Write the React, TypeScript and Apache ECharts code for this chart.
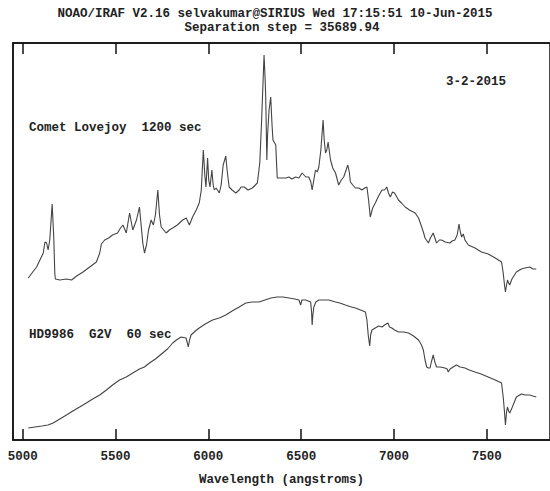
import React, { useEffect, useRef } from "react";
import * as echarts from "echarts";

const tickValues = [5000, 5500, 6000, 6500, 7000, 7500];

const cometWave = [5030,5075,5111,5120,5129,5137,5146,5159,5168,5173,5176,5200,5236,5263,5291,5325,5361,5397,5415,5424,5442,5463,5484,5511,5527,5540,5558,5576,5593,5613,5629,5638,5647,5656,5667,5678,5692,5704,5715,5728,5737,5746,5773,5790,5808,5833,5862,5881,5898,5915,5935,5951,5962,5973,5981,5987,5996,6002,6009,6019,6026,6032,6042,6059,6069,6080,6094,6101,6112,6128,6148,6166,6176,6193,6214,6237,6264,6277,6287,6300,6306,6309,6315,6319,6327,6336,6343,6348,6363,6371,6398,6418,6434,6450,6470,6488,6505,6525,6541,6552,6559,6568,6577,6587,6595,6606,6618,6624,6631,6638,6645,6658,6670,6685,6702,6716,6729,6751,6759,6765,6778,6792,6810,6827,6842,6854,6863,6872,6885,6899,6917,6935,6949,6961,6970,6980,6992,7003,7024,7040,7060,7083,7114,7132,7149,7158,7167,7185,7196,7211,7229,7244,7256,7276,7301,7313,7328,7340,7350,7357,7364,7373,7382,7400,7436,7471,7507,7545,7579,7588,7595,7600,7606,7611,7617,7623,7635,7659,7686,7705,7731,7748,7766];
const cometFlux = [162,173,187,198,197,190,200,236,200,167,161,160,161,160,164,168,173,178,187,196,200,202,205,207,212,215,207,227,210,220,233,215,197,187,195,210,220,215,225,250,225,213,207,210,212,215,220,222,215,223,230,237,250,290,265,253,282,260,253,270,255,250,252,247,255,275,284,270,253,250,247,250,253,253,250,252,257,277,320,385,360,343,280,305,330,343,315,300,295,262,262,262,263,261,263,262,267,263,263,258,250,260,270,268,273,290,320,300,287,290,298,280,272,267,255,260,263,275,268,258,255,252,252,250,252,253,240,223,232,237,244,250,250,253,247,243,248,247,240,237,233,230,227,222,213,208,202,197,202,207,197,200,200,198,197,199,200,205,216,208,203,206,200,195,192,188,186,182,178,167,155,148,155,160,157,155,161,168,171,172,173,171,171];

const starWave = [5030,5066,5104,5136,5164,5200,5236,5270,5307,5343,5377,5415,5451,5484,5522,5558,5593,5629,5656,5683,5715,5754,5780,5808,5828,5853,5880,5887,5892,5899,5907,5930,5951,5983,6023,6059,6094,6128,6166,6202,6236,6273,6305,6337,6371,6402,6434,6466,6488,6497,6504,6524,6551,6556,6559,6563,6568,6579,6595,6622,6649,6685,6708,6738,6761,6792,6820,6846,6854,6861,6869,6874,6881,6899,6917,6935,6949,6967,6976,6988,7003,7024,7051,7078,7105,7132,7148,7158,7167,7176,7185,7194,7201,7211,7220,7229,7249,7274,7286,7292,7302,7318,7336,7356,7382,7405,7436,7469,7507,7545,7579,7588,7595,7600,7606,7611,7617,7623,7635,7659,7686,7705,7731,7748,7766];
const starFlux = [12,13,14,15,17,21,25,29,33,37,41,45,50,55,60,63,67,71,73,77,81,87,91,97,100,103,102,97,93,100,105,109,112,116,120,122,125,129,133,137,138,138,140,142,143,143,142,141,140,135,140,140,138,128,115,125,133,138,140,140,140,138,137,135,133.5,132,130,128,120,105,94,105,110,112,114,113,115,117,113,112,110,108,108,107,104,100,95,90,80,73,72,72,78,85,78,73,73,72,71,68,71,73,75,73,72,70,68,66,63,60,57,43,28,15,28,33,29,27,32,43,46,45,45,44,43];

const titleLine1 = "NOAO/IRAF V2.16 selvakumar@SIRIUS Wed 17:15:51 10-Jun-2015";
const titleLine2 = "Separation step = 35689.94";
const dateLabel = "3-2-2015";
const cometLabel = "Comet Lovejoy  1200 sec";
const starLabel = "HD9986  G2V  60 sec";
const xAxisName = "Wavelength (angstroms)";

const FONT = "'Liberation Mono', 'DejaVu Sans Mono', monospace";

export default function App() {
  const ref = useRef<HTMLDivElement>(null);
  useEffect(() => {
    if (!ref.current) return;
    const chart = echarts.init(ref.current, null, { renderer: "svg" });
    const cometData = cometWave.map((w, i) => [w, cometFlux[i]]);
    const starData = starWave.map((w, i) => [w, starFlux[i]]);
    const textStyle = { fontFamily: FONT, fontSize: 12.5, fontWeight: "bold", fill: "#222" };
    chart.setOption({
      animation: false,
      backgroundColor: "#fff",
      grid: { left: 13, right: -2, top: 43, bottom: 51, show: true, borderColor: "#111", borderWidth: 1.5, backgroundColor: "transparent" },
      xAxis: [
        {
          type: "value", min: 4948, max: 7840, position: "bottom",
          name: xAxisName, nameLocation: "middle", nameGap: 33,
          nameTextStyle: { fontFamily: FONT, fontSize: 12.5, fontWeight: "bold", color: "#222" },
          axisLine: { show: true, lineStyle: { color: "#111", width: 1.5 } },
          axisTick: { show: true, inside: true, length: 11, customValues: tickValues, lineStyle: { color: "#111", width: 1.5 } },
          axisLabel: { show: true, customValues: tickValues, margin: 10, formatter: (v: number) => String(v), fontFamily: FONT, fontSize: 12.5, fontWeight: "bold", color: "#222" },
          splitLine: { show: false },
        },
        {
          type: "value", min: 4948, max: 7840, position: "top",
          axisLine: { show: true, lineStyle: { color: "#111", width: 1.5 } },
          axisTick: { show: true, inside: true, length: 11, customValues: tickValues, lineStyle: { color: "#111", width: 1.5 } },
          axisLabel: { show: false },
          splitLine: { show: false },
        },
      ],
      yAxis: {
        type: "value", min: 0, max: 397,
        axisLine: { show: true, lineStyle: { color: "#111", width: 1.5 } },
        axisTick: { show: false }, axisLabel: { show: false }, splitLine: { show: false },
      },
      series: [
        { type: "line", data: cometData, xAxisIndex: 0, showSymbol: false, symbol: "none", lineStyle: { color: "#444", width: 1.1 } },
        { type: "line", data: starData, xAxisIndex: 0, showSymbol: false, symbol: "none", lineStyle: { color: "#444", width: 1.1 } },
      ],
      graphic: [
        { type: "text", x: 275, y: 14, style: { ...textStyle, text: titleLine1, textAlign: "center", textVerticalAlign: "middle" } },
        { type: "text", x: 282, y: 28, style: { ...textStyle, text: titleLine2, textAlign: "center", textVerticalAlign: "middle" } },
        { type: "text", x: 476, y: 82, style: { ...textStyle, text: dateLabel, textAlign: "center", textVerticalAlign: "middle" } },
        { type: "text", x: 29, y: 128, style: { ...textStyle, text: cometLabel, textAlign: "left", textVerticalAlign: "middle" } },
        { type: "text", x: 29, y: 335, style: { ...textStyle, text: starLabel, textAlign: "left", textVerticalAlign: "middle" } },
      ],
    });
    return () => chart.dispose();
  }, []);
  return <div ref={ref} style={{ width: 550, height: 491, position: "absolute", left: 0, top: 0 }} />;
}
